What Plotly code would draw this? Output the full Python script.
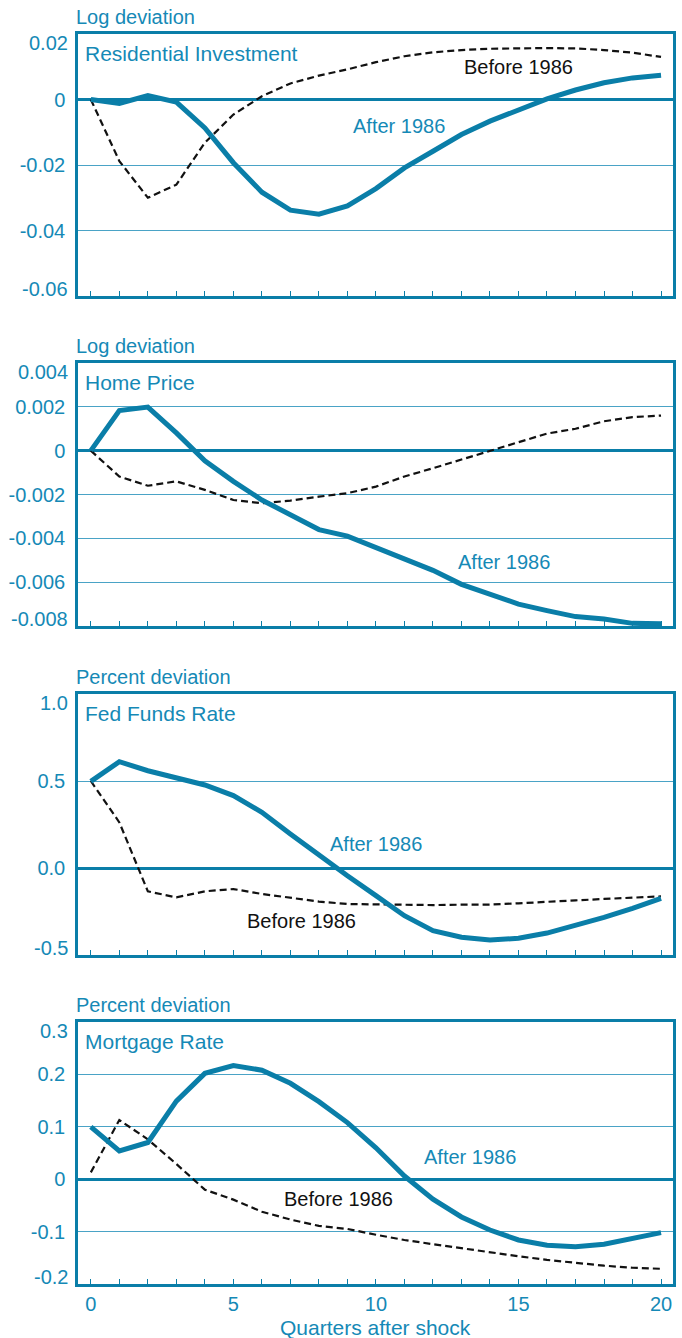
import plotly.graph_objects as go

# Quarters after the shock
quarters = list(range(21))

# Residential investment (log deviation)
resinv_after = [0.0, -0.0012, 0.0012, -0.0008, -0.0087, -0.0193, -0.0283, -0.0338, -0.0350, -0.0325,
                -0.0272, -0.0209, -0.0158, -0.0107, -0.0066, -0.0031, 0.0002, 0.0029, 0.0051, 0.0066, 0.0074]
resinv_before = [0.0, -0.0188, -0.0300, -0.0260, -0.0132, -0.0046, 0.0010, 0.0049, 0.0073, 0.0092,
                 0.0114, 0.0132, 0.0144, 0.0151, 0.0155, 0.0157, 0.0157, 0.0156, 0.0151, 0.0143, 0.0130]

# Home price (log deviation)
hp_after = [0.0, 0.00183, 0.00199, 0.00081, -0.00046, -0.0014, -0.00225, -0.00294, -0.0036, -0.0039,
            -0.0044, -0.0049, -0.00546, -0.0061, -0.00653, -0.0070, -0.0073, -0.00757, -0.00768, -0.00788, -0.0079]
hp_before = [0.0, -0.00118, -0.0016, -0.0014, -0.00179, -0.00225, -0.0024, -0.00228, -0.0021, -0.00194,
             -0.00164, -0.00118, -0.0008, -0.00041, 0.0, 0.00038, 0.00078, 0.0010, 0.00134, 0.00153, 0.0016]

# Fed funds rate (percent deviation)
ff_after = [0.498, 0.611, 0.559, 0.521, 0.477, 0.416, 0.320, 0.195, 0.071, -0.045,
            -0.159, -0.274, -0.360, -0.398, -0.414, -0.404, -0.374, -0.331, -0.284, -0.232, -0.174]
ff_before = [0.500, 0.262, -0.134, -0.169, -0.134, -0.121, -0.149, -0.169, -0.193, -0.207,
             -0.210, -0.210, -0.213, -0.211, -0.210, -0.203, -0.193, -0.186, -0.178, -0.169, -0.163]

# Mortgage rate (percent deviation)
mr_after = [0.100, 0.054, 0.070, 0.149, 0.202, 0.217, 0.208, 0.183, 0.148, 0.108,
            0.060, 0.006, -0.038, -0.072, -0.097, -0.116, -0.126, -0.129, -0.124, -0.114, -0.102]
mr_before = [0.013, 0.113, 0.076, 0.029, -0.020, -0.039, -0.062, -0.077, -0.089, -0.095,
             -0.106, -0.116, -0.124, -0.132, -0.140, -0.147, -0.154, -0.160, -0.165, -0.169, -0.171]

panel_titles = ["Residential Investment", "Home Price", "Fed Funds Rate", "Mortgage Rate"]
unit_titles = ["Log deviation", "Log deviation", "Percent deviation", "Percent deviation"]
y_ranges = [[-0.06, 0.02], [-0.008, 0.004], [-0.5, 1.0], [-0.2, 0.3]]
y_tickvals = [[-0.06, -0.04, -0.02, 0, 0.02],
              [-0.008, -0.006, -0.004, -0.002, 0, 0.002, 0.004],
              [-0.5, 0, 0.5, 1.0],
              [-0.2, -0.1, 0, 0.1, 0.2, 0.3]]
y_ticktext = [["-0.06", "-0.04", "-0.02", "0", "0.02"],
              ["-0.008", "-0.006", "-0.004", "-0.002", "0", "0.002", "0.004"],
              ["-0.5", "0.0", "0.5", "1.0"],
              ["-0.2", "-0.1", "0", "0.1", "0.2", "0.3"]]
x_label_every = 5
x_title = "Quarters after shock"

# label anchors (x in quarters, y in data units) for the series labels
after_label_pos = [(10.8, -0.0082), (14.5, -0.0051), (10.0, 0.14), (13.3, 0.042)]
before_label_pos = [(15.0, 0.0098), (13.1, 0.0058), (7.4, -0.305), (8.7, -0.038)]

series_after = [resinv_after, hp_after, ff_after, mr_after]
series_before = [resinv_before, hp_before, ff_before, mr_before]

LINE = "#0a7ea8"
TEXT = "#1589b6"
GRID = "#4aa3c6"
FONT = "Liberation Sans, Arial, sans-serif"

W, H = 682, 1338
x_left, x_right = 78, 673
frames = [(34, 296), (363, 626), (694, 955), (1022, 1284)]

fig = go.Figure()
layout = dict(
    width=W, height=H,
    margin=dict(l=0, r=0, t=0, b=0, autoexpand=False),
    paper_bgcolor="white", plot_bgcolor="white",
    showlegend=False,
    font=dict(family=FONT, color=TEXT, size=20),
)
annotations = []

for k in range(4):
    xa = "x" if k == 0 else f"x{k+1}"
    ya = "y" if k == 0 else f"y{k+1}"
    top, bot = frames[k]
    fig.add_trace(go.Scatter(x=quarters, y=series_before[k], mode="lines", xaxis=xa, yaxis=ya,
                             line=dict(color="#111111", width=2.2, dash="7px,4px"),
                             hoverinfo="skip"))
    fig.add_trace(go.Scatter(x=quarters, y=series_after[k], mode="lines", xaxis=xa, yaxis=ya,
                             line=dict(color=LINE, width=5), hoverinfo="skip"))
    last = k == 3
    layout["xaxis" if k == 0 else f"xaxis{k+1}"] = dict(
        domain=[x_left / W, x_right / W], anchor=ya, range=[-0.45, 20.42],
        automargin=False,
        showgrid=False, zeroline=False,
        showline=True, linecolor=LINE, linewidth=2.5, mirror=True,
        ticks="inside", ticklen=5, tickwidth=1, tickcolor=LINE,
        tickmode="array",
        tickvals=quarters,
        ticktext=[str(q) if (last and q % x_label_every == 0) else "" for q in quarters],
        showticklabels=last,
        tickfont=dict(size=20, color=TEXT),
    )
    # interior tick labels come from the axis; the two end labels sit just inside the frame
    inner_text = [t if 0 < i < len(y_ticktext[k]) - 1 else "" for i, t in enumerate(y_ticktext[k])]
    layout["yaxis" if k == 0 else f"yaxis{k+1}"] = dict(
        domain=[1 - bot / H, 1 - top / H], anchor=xa, range=y_ranges[k],
        automargin=False,
        tickmode="array", tickvals=y_tickvals[k], ticktext=inner_text,
        tickfont=dict(size=20, color=TEXT), ticks="", ticklabelstandoff=6,
        showgrid=True, gridcolor=GRID, gridwidth=1,
        zeroline=True, zerolinecolor=LINE, zerolinewidth=2.5,
        showline=True, linecolor=LINE, linewidth=2.5, mirror=True,
    )
    annotations.append(dict(xref="paper", yref=ya, x=(x_left - 8) / W, y=y_tickvals[k][-1],
                            xanchor="right", yanchor="top", yshift=4, showarrow=False,
                            text=y_ticktext[k][-1], font=dict(size=20, color=TEXT)))
    annotations.append(dict(xref="paper", yref=ya, x=(x_left - 8) / W, y=y_tickvals[k][0],
                            xanchor="right", yanchor="bottom", yshift=-6, showarrow=False,
                            text=y_ticktext[k][0], font=dict(size=20, color=TEXT)))
    # unit label above the frame
    annotations.append(dict(xref="paper", yref="paper", x=(x_left - 4) / W, y=1 - (top - 4) / H,
                            xanchor="left", yanchor="bottom", showarrow=False,
                            text=unit_titles[k], font=dict(size=20, color=TEXT)))
    # panel title inside the frame
    annotations.append(dict(xref="paper", yref="paper", x=(x_left + 5) / W, y=1 - (top + 6) / H,
                            xanchor="left", yanchor="top", showarrow=False,
                            text=panel_titles[k], font=dict(size=21, color=TEXT)))
    ax, ay = after_label_pos[k]
    annotations.append(dict(xref=xa, yref=ya, x=ax, y=ay, showarrow=False,
                            text="After 1986", font=dict(size=20, color=TEXT)))
    bx, by = before_label_pos[k]
    annotations.append(dict(xref=xa, yref=ya, x=bx, y=by, showarrow=False,
                            text="Before 1986", font=dict(size=20, color="#111111")))

# horizontal-axis title under the bottom panel
annotations.append(dict(xref="paper", yref="paper", x=(x_left + x_right) / 2 / W, y=1 - 1327 / H,
                        xanchor="center", yanchor="middle", showarrow=False,
                        text=x_title, font=dict(size=21, color=TEXT)))

layout["annotations"] = annotations
fig.update_layout(**layout)
fig.write_html("out.html")
